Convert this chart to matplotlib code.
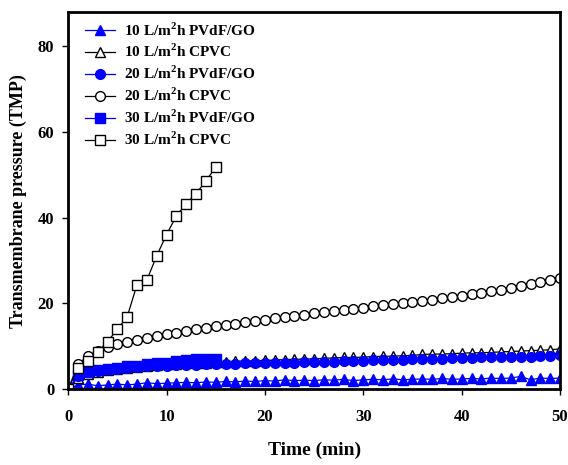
import numpy as np
import matplotlib
matplotlib.use('Agg')
import matplotlib.pyplot as plt

plt.rcParams['font.family'] = ['Liberation Serif', 'DejaVu Serif']
plt.rcParams['font.weight'] = 'bold'
plt.rcParams['mathtext.fontset'] = 'custom'
plt.rcParams['mathtext.rm'] = 'Liberation Serif:bold'

# time axis (min)
t_long = np.arange(0, 51)
t_short = np.arange(0, 16)

# TMP values
tmp_10_pvdf = [0, 1.0, 1.2, 0.8, 1.0, 1.2, 1.0, 1.2, 1.5, 1.3, 1.4,
               1.5, 1.6, 1.5, 1.7, 1.6, 1.8, 1.7, 1.9, 1.8, 2.0,
               1.9, 2.2, 2.0, 2.1, 2.0, 2.2, 2.1, 2.3, 2.0, 2.2,
               2.3, 2.2, 2.4, 2.2, 2.3, 2.4, 2.3, 2.5, 2.3, 2.4,
               2.5, 2.4, 2.6, 2.5, 2.6, 3.0, 2.2, 2.6, 2.5, 2.6]
tmp_10_cpvc = [0, 2.5, 3.5, 4.0, 4.5, 4.8, 5.0, 5.2, 5.4, 5.6, 5.8,
               5.9, 6.0, 6.1, 6.2, 6.3, 6.4, 6.5, 6.6, 6.6, 6.7,
               6.8, 6.9, 7.0, 7.0, 7.1, 7.2, 7.3, 7.4, 7.4, 7.5,
               7.6, 7.7, 7.7, 7.8, 7.9, 8.1, 8.2, 8.2, 8.3, 8.4,
               8.5, 8.5, 8.6, 8.7, 8.8, 8.9, 9.0, 9.1, 9.2, 9.4]
tmp_20_pvdf = [0, 3.0, 4.0, 4.3, 4.6, 4.8, 5.0, 5.1, 5.3, 5.4, 5.5,
               5.6, 5.6, 5.7, 5.8, 5.8, 5.9, 5.9, 6.0, 6.0, 6.1,
               6.1, 6.2, 6.2, 6.3, 6.3, 6.4, 6.4, 6.5, 6.5, 6.6,
               6.7, 6.8, 6.8, 6.9, 7.0, 7.0, 7.1, 7.1, 7.2, 7.3,
               7.3, 7.4, 7.4, 7.5, 7.5, 7.6, 7.6, 7.7, 7.8, 7.9]
tmp_20_cpvc = [0, 5.8, 7.8, 9.0, 9.8, 10.5, 11.0, 11.5, 12.0, 12.4, 12.8,
               13.2, 13.6, 14.0, 14.3, 14.7, 15.0, 15.3, 15.6, 15.9, 16.2,
               16.5, 16.8, 17.1, 17.4, 17.8, 18.0, 18.2, 18.4, 18.6, 18.9,
               19.3, 19.6, 19.9, 20.2, 20.4, 20.6, 20.9, 21.2, 21.5, 21.8,
               22.1, 22.4, 22.8, 23.2, 23.6, 24.0, 24.5, 25.0, 25.5, 26.0]
tmp_30_pvdf = [0, 3.2, 4.0, 4.5, 4.8, 5.0, 5.3, 5.5, 5.8, 6.0,
               6.2, 6.5, 6.8, 7.0, 7.0, 7.0]
tmp_30_cpvc = [0, 5.0, 6.5, 8.7, 11.1, 14.0, 16.9, 24.4, 25.5,
               31.1, 36.1, 40.4, 43.3, 45.6, 48.6, 51.8]

fig = plt.figure(figsize=(5.68, 4.65), dpi=100)
ax = fig.add_axes([0.12, 0.163, 0.866, 0.811])

ms = 7
lw = 0.9
ax.plot(t_long, tmp_10_pvdf, color='blue', marker='^', ms=ms, lw=lw,
        mfc='blue', mec='blue', label=r'10 L/m$^2$h PVdF/GO')
ax.plot(t_long, tmp_10_cpvc, color='black', marker='^', ms=ms, lw=lw,
        mfc='white', mec='black', label=r'10 L/m$^2$h CPVC')
ax.plot(t_long, tmp_20_pvdf, color='blue', marker='o', ms=ms, lw=lw,
        mfc='blue', mec='blue', label=r'20 L/m$^2$h PVdF/GO')
ax.plot(t_long, tmp_20_cpvc, color='black', marker='o', ms=ms, lw=lw,
        mfc='white', mec='black', label=r'20 L/m$^2$h CPVC')
ax.plot(t_short, tmp_30_pvdf, color='blue', marker='s', ms=ms, lw=lw,
        mfc='blue', mec='blue', label=r'30 L/m$^2$h PVdF/GO')
ax.plot(t_short, tmp_30_cpvc, color='black', marker='s', ms=ms, lw=lw,
        mfc='white', mec='black', label=r'30 L/m$^2$h CPVC')

ax.set_xlim(0, 50)
ax.set_ylim(0, 88)
ax.set_xticks(range(0, 51, 10))
ax.set_yticks(range(0, 81, 20))
ax.tick_params(direction='out', length=4, width=1, labelsize=12)
ax.tick_params(axis='x', pad=10)
ax.tick_params(axis='y', pad=6)
for s in ax.spines.values():
    s.set_linewidth(2)

ax.set_xlabel('Time (min)', fontsize=14, fontweight='bold', labelpad=12)
ax.set_ylabel('Transmembrane pressure (TMP)', fontsize=13, fontweight='bold', labelpad=8)

ax.legend(loc='upper left', frameon=False, fontsize=11, handlelength=2.0,
          handletextpad=0.6, borderaxespad=0.2, labelspacing=0.3,
          bbox_to_anchor=(0.015, 1.0))

fig.savefig('out.png', dpi=100)
